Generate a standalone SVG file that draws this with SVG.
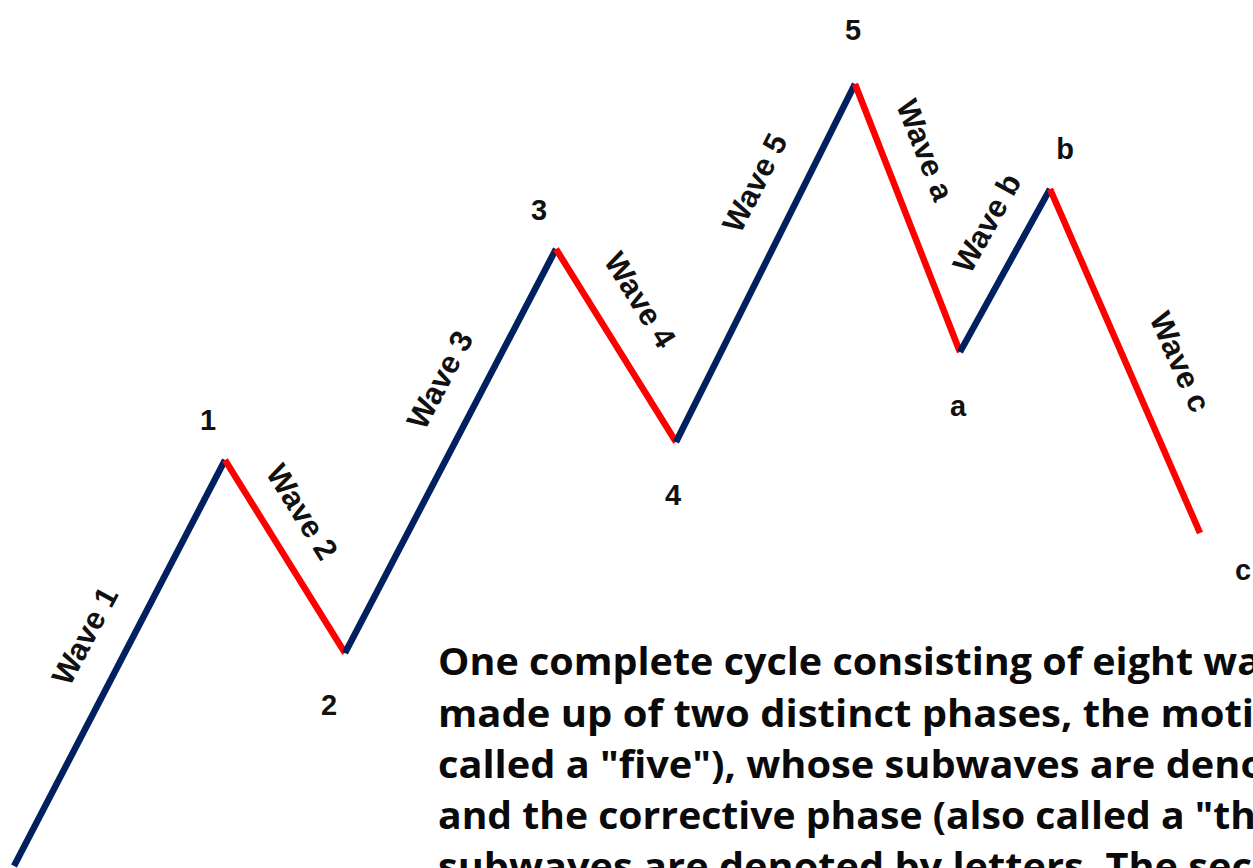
<svg xmlns="http://www.w3.org/2000/svg" width="1253" height="868" viewBox="0 0 1253 868">
<style>
.up{stroke:#002060;stroke-width:6.5;fill:none;stroke-linecap:butt}
.down{stroke:#ff0000;stroke-width:6.5;fill:none;stroke-linecap:butt}
.pt{font-family:"Liberation Sans",Arial,sans-serif;font-weight:bold;font-size:29px;fill:#111;text-anchor:middle}
.wl{font-family:"Liberation Sans",Arial,sans-serif;font-weight:bold;font-size:31px;fill:#111;text-anchor:middle;dominant-baseline:central}
.body{font-family:"Open Sans","Liberation Sans",sans-serif;font-weight:bold;font-size:37px;fill:#0a0a0a}
</style>
<rect width="1253" height="868" fill="#ffffff"/>
<g id="connectors">
<line class="up" x1="14" y1="866" x2="225" y2="460"/>
<line class="down" x1="225" y1="460" x2="345" y2="653"/>
<line class="up" x1="345" y1="653" x2="556" y2="249"/>
<line class="down" x1="556" y1="249" x2="676" y2="442"/>
<line class="up" x1="676" y1="442" x2="855" y2="84"/>
<line class="down" x1="855" y1="84" x2="960" y2="352"/>
<line class="up" x1="960" y1="352" x2="1050" y2="189"/>
<line class="down" x1="1050" y1="189" x2="1200" y2="533"/>
</g>
<g id="point-labels">
<g id="p1"><text class="pt" x="208" y="430">1</text></g>
<g id="p2"><text class="pt" x="329" y="715">2</text></g>
<g id="p3"><text class="pt" x="539" y="220">3</text></g>
<g id="p4"><text class="pt" x="673" y="505">4</text></g>
<g id="p5"><text class="pt" x="853" y="40">5</text></g>
<g id="pa"><text class="pt" x="958" y="416">a</text></g>
<g id="pb"><text class="pt" x="1065" y="159">b</text></g>
<g id="pc"><text class="pt" x="1243" y="580">c</text></g>
</g>
<g id="wave-labels">
<g id="w1"><text class="wl" transform="translate(85,636) rotate(-62)">Wave 1</text></g>
<g id="w2"><text class="wl" transform="translate(302,512) rotate(58)">Wave 2</text></g>
<g id="w3"><text class="wl" transform="translate(440,380) rotate(-62)">Wave 3</text></g>
<g id="w4"><text class="wl" transform="translate(640,300) rotate(58)">Wave 4</text></g>
<g id="w5"><text class="wl" transform="translate(755,183) rotate(-63)">Wave 5</text></g>
<g id="wa"><text class="wl" transform="translate(925,150) rotate(68.5)">Wave a</text></g>
<g id="wb"><text class="wl" transform="translate(987,223) rotate(-61)">Wave b</text></g>
<g id="wc"><text class="wl" transform="translate(1180,362) rotate(66)">Wave c</text></g>
</g>
<g id="caption">
<text class="body" x="438" y="675" textLength="823" lengthAdjust="spacingAndGlyphs">One complete cycle consisting of eight wa</text>
<text class="body" x="438" y="727" textLength="816" lengthAdjust="spacingAndGlyphs">made up of two distinct phases, the moti</text>
<text class="body" x="438" y="778" textLength="827" lengthAdjust="spacingAndGlyphs">called a "five"), whose subwaves are deno</text>
<text class="body" x="438" y="829" textLength="818" lengthAdjust="spacingAndGlyphs">and the corrective phase (also called a "th</text>
<text class="body" x="438" y="880" textLength="814" lengthAdjust="spacingAndGlyphs">subwaves are denoted by letters. The sec</text>
</g>
</svg>
